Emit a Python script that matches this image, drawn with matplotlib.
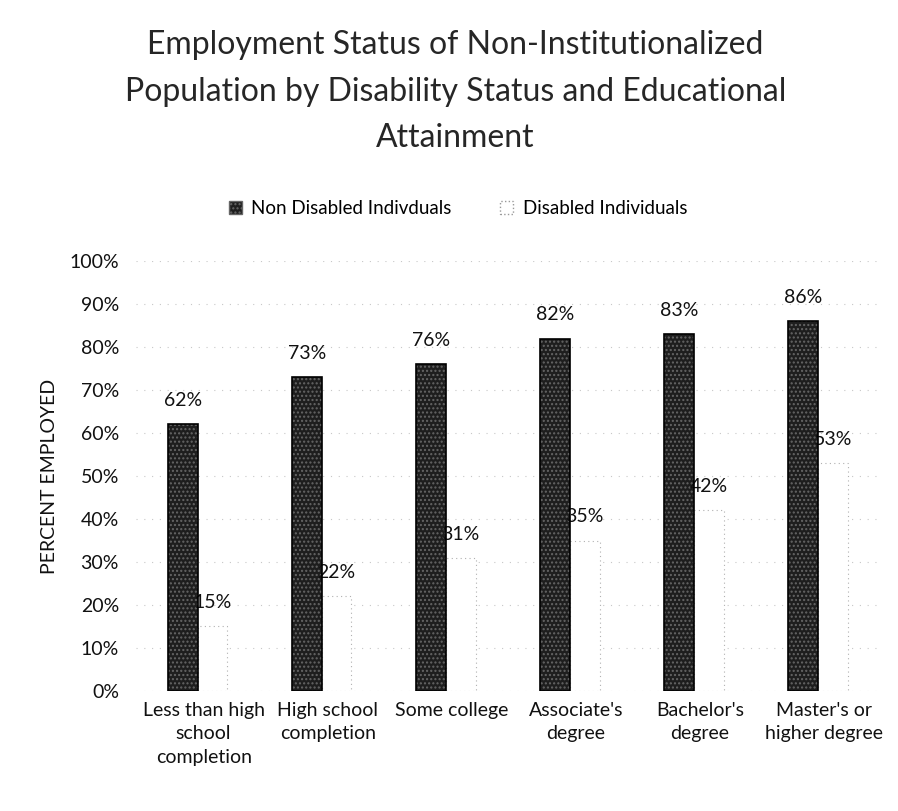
import matplotlib
matplotlib.use("Agg")
from matplotlib import pyplot as plt
import matplotlib.patches as mpatches
import matplotlib.transforms as mtransforms
import numpy as np

plt.rcParams['font.family'] = ['Lato', 'DejaVu Sans']

categories = ["Less than high\nschool\ncompletion", "High school\ncompletion",
              "Some college", "Associate's\ndegree", "Bachelor's\ndegree",
              "Master's or\nhigher degree"]
non_disabled = [62, 73, 76, 82, 83, 86]
disabled = [15, 22, 31, 35, 42, 53]
yticks = [0, 10, 20, 30, 40, 50, 60, 70, 80, 90, 100]

fig = plt.figure(figsize=(8.98, 8.11), dpi=100)
ax = fig.add_axes([0.151, 0.148, 0.829, 0.530])

x = np.arange(len(categories))
w = 0.24

# dark textured bars
ax.bar(x - w / 2, non_disabled, w, color="#1e1e1e", hatch="....",
       edgecolor="#666666", linewidth=0, zorder=3)
ax.bar(x - w / 2, non_disabled, w, facecolor="none", edgecolor="black",
       linewidth=1.2, zorder=4)
# disabled bars: white, faint dotted outline
ax.bar(x + w / 2, disabled, w, color="white", edgecolor="#b0b0b0",
       linewidth=0.8, linestyle=(0, (1, 3)), zorder=3)

for xi, v in zip(x, non_disabled):
    ax.annotate(f"{v}%", (xi - w / 2, v), xytext=(0, 17), textcoords="offset points",
                ha="center", va="center", fontsize=14, color="#111111")
for xi, v in zip(x, disabled):
    ax.annotate(f"{v}%", (xi + w / 2, v), xytext=(0, 17), textcoords="offset points",
                ha="center", va="center", fontsize=14, color="#111111")

ax.set_ylim(0, 100)
ax.set_xlim(-0.5, len(categories) - 0.5)
ax.set_yticks(yticks)
ax.set_yticklabels([f"{t}%" for t in yticks], fontsize=14, color="#111111")
ax.set_xticks(x)
ax.set_xticklabels(categories, fontsize=14, color="#111111", linespacing=1.45)
ax.tick_params(axis="y", length=0, pad=12)
ax.tick_params(axis="x", length=0, pad=8)
shift = mtransforms.ScaledTranslation(6 / 100, 0, fig.dpi_scale_trans)
for lbl in ax.get_xticklabels():
    lbl.set_transform(lbl.get_transform() + shift)
ax.yaxis.grid(True, color="#c8c8c8", linestyle=(0, (1, 6)), linewidth=0.8, zorder=0)
for s in ax.spines.values():
    s.set_visible(False)

ax.set_ylabel("PERCENT EMPLOYED", fontsize=14, color="#111111", labelpad=8)

title_lines = ["Employment Status of Non-Institutionalized",
               "Population by Disability Status and Educational",
               "Attainment"]
for ty, line in zip([0.944, 0.887, 0.830], title_lines):
    fig.text(0.507, ty, line, ha="center", va="center", fontsize=23,
             color="#262626")

dark_patch = mpatches.Patch(facecolor="#1e1e1e", hatch="....", edgecolor="#666666",
                            label="Non Disabled Indivduals")
light_patch = mpatches.Patch(facecolor="white", edgecolor="#999999", linestyle=":",
                             label="Disabled Individuals")
fig.legend(handles=[dark_patch, light_patch], loc="center", bbox_to_anchor=(0.51, 0.743),
           ncol=2, frameon=False, fontsize=13.5, handlelength=0.7, handleheight=0.7,
           columnspacing=2.6, handletextpad=0.5)

plt.savefig("out.png", dpi=100)
